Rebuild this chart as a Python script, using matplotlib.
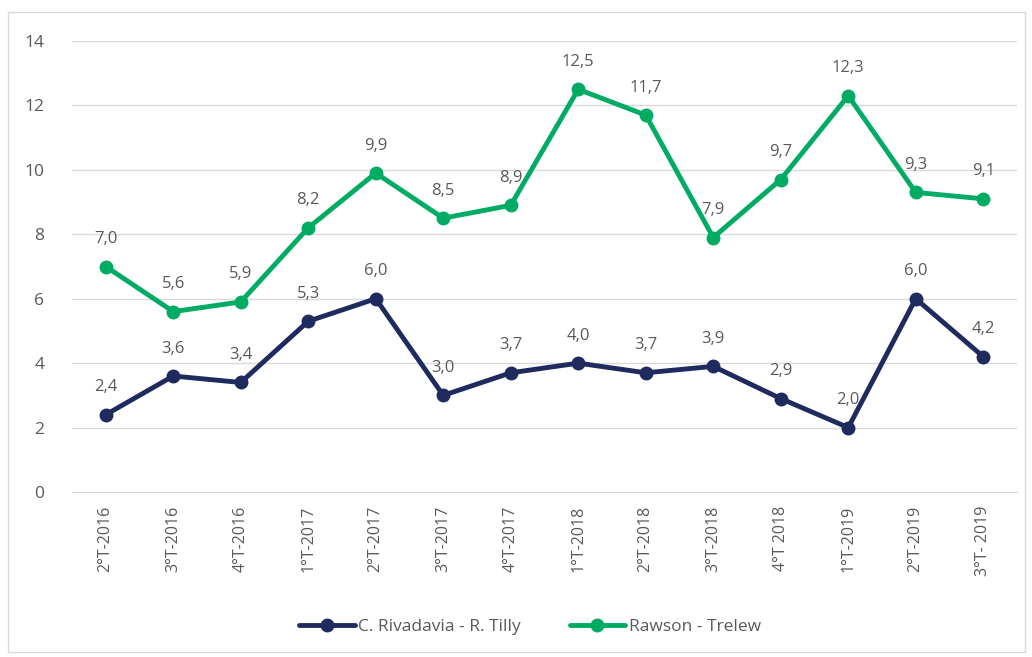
import matplotlib
matplotlib.use('Agg')
import matplotlib.pyplot as plt
from matplotlib.patches import Rectangle

plt.rcParams['font.family'] = ['Open Sans', 'DejaVu Sans']

periods = ['2°T-2016', '3°T-2016', '4°T-2016', '1°T-2017', '2°T-2017', '3°T-2017',
           '4°T-2017', '1°T-2018', '2°T-2018', '3°T-2018', '4°T 2018', '1°T-2019',
           '2°T-2019', '3°T- 2019']
rivadavia = [2.4, 3.6, 3.4, 5.3, 6.0, 3.0, 3.7, 4.0, 3.7, 3.9, 2.9, 2.0, 6.0, 4.2]
rawson = [7.0, 5.6, 5.9, 8.2, 9.9, 8.5, 8.9, 12.5, 11.7, 7.9, 9.7, 12.3, 9.3, 9.1]

navy = '#1f2a5e'
green = '#00ab63'
txt = '#595959'

W, H = 1032, 657
fig = plt.figure(figsize=(W / 100, H / 100), dpi=100)
fig.patches.append(Rectangle((8 / W, 5 / H), 1017 / W, 640 / H, transform=fig.transFigure,
                             fill=False, edgecolor='#d9d9d9', linewidth=1))
ax = fig.add_axes([72 / W, 1 - 492 / H, (1017 - 72) / W, (492 - 41) / H])

x = list(range(len(periods)))
ax.plot(x, rivadavia, color=navy, lw=3.5, marker='o', ms=9, label='C. Rivadavia - R. Tilly',
        solid_capstyle='round', zorder=3)
ax.plot(x, rawson, color=green, lw=3.5, marker='o', ms=9, label='Rawson - Trelew',
        solid_capstyle='round', zorder=3)

for series in (rivadavia, rawson):
    for xi, v in zip(x, series):
        ax.annotate(f'{v:.1f}'.replace('.', ','), (xi, v), xytext=(0, 14),
                    textcoords='offset points', ha='center', va='bottom',
                    fontsize=12, color=txt)

ax.set_xlim(-0.5, len(periods) - 0.5)
ax.set_ylim(0, 14)
ax.set_yticks(range(0, 15, 2))
ax.set_xticks(x)
ax.set_xticklabels(periods, rotation=90, fontsize=11.5, color=txt)
ax.tick_params(axis='y', labelsize=12.5, colors=txt, length=0, pad=20)
ax.tick_params(axis='x', length=0, pad=10)
ax.grid(axis='y', color='#d9d9d9', lw=1)
ax.set_axisbelow(True)
for s in ['top', 'right', 'left']:
    ax.spines[s].set_visible(False)
ax.spines['bottom'].set_color('#d9d9d9')

fig.legend(loc='center', bbox_to_anchor=(530 / W, 1 - 627 / H), ncol=2, frameon=False,
           fontsize=12.5, labelcolor=txt, handlelength=3.2, columnspacing=2.8,
           handletextpad=0.2)

fig.savefig('out.png', dpi=100, facecolor='white')
